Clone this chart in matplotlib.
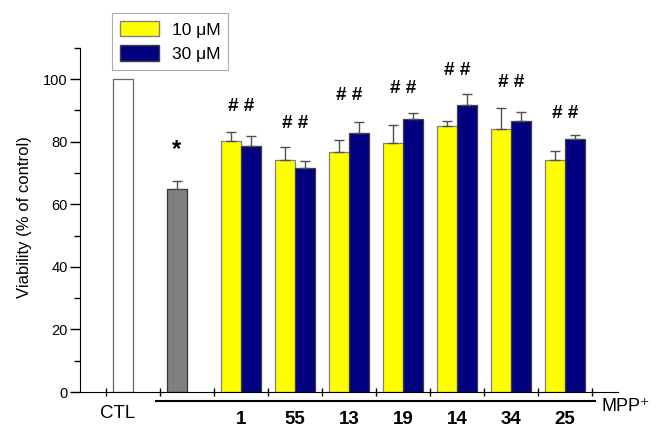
import matplotlib
matplotlib.use("Agg")
import matplotlib.pyplot as plt
import numpy as np
from matplotlib.patches import Patch

plt.rcParams['font.family'] = ['Liberation Sans', 'DejaVu Sans']

compounds = ["1", "55", "13", "19", "14", "34", "25"]
ctl_value = 100.0
mpp_value = 65.0
mpp_err = 2.3
v10 = [80.4, 74.1, 76.8, 79.7, 85.2, 84.1, 74.3]
e10 = [2.7, 4.1, 3.9, 5.6, 1.6, 6.6, 2.6]
v30 = [78.7, 71.6, 82.9, 87.3, 91.8, 86.5, 80.8]
e30 = [3.3, 2.3, 3.3, 1.8, 3.6, 2.9, 1.4]
hash_y = [91.4, 85.9, 94.9, 97.1, 102.9, 99.0, 89.0]
star_y = 77.5

fig = plt.figure(figsize=(6.59, 4.28), dpi=100)
ax = fig.add_axes([0.1214, 0.0841, 0.938 - 0.1214, 0.888 - 0.0841])

w = 0.37
off = 0.19
ekw = dict(ecolor='#505050', elinewidth=1.0, capsize=3.5, capthick=1.0)

ax.bar([0 - off], [ctl_value], width=w, color='white', edgecolor='#666666', linewidth=0.9)
ax.bar([1 - off], [mpp_value], width=w, color='#808080', edgecolor='#333333', linewidth=0.9,
       yerr=[[0], [mpp_err]], error_kw=ekw)
xg = np.arange(2, 2 + len(compounds))
ax.bar(xg - off, v10, width=w, color='#FFFF00', edgecolor='#808080', linewidth=0.9,
       yerr=[np.zeros(len(e10)), e10], error_kw=ekw, label='10 \u03bcM')
ax.bar(xg + off, v30, width=w, color='#000080', edgecolor='#404040', linewidth=0.9,
       yerr=[np.zeros(len(e30)), e30], error_kw=ekw, label='30 \u03bcM')

for x, y in zip(xg, hash_y):
    ax.text(x, y, "# #", ha='center', va='center', fontsize=13.5, fontweight='bold')
ax.text(1 - off, star_y, "*", ha='center', va='center', fontsize=17, fontweight='bold')

ax.set_xlim(-0.98, 8.98)
ax.set_ylim(0, 110)
ax.spines['top'].set_visible(False)
ax.spines['right'].set_visible(False)
ax.spines['left'].set_bounds(0, 110)
ax.set_yticks(np.arange(0, 101, 20))
ax.set_yticks(np.arange(10, 111, 10), minor=True)
ax.tick_params(axis='y', which='major', length=7, width=1, labelsize=10.5, pad=2)
ax.tick_params(axis='y', which='minor', length=4, width=1)
ax.set_xticks(np.arange(-0.5, 9.0, 1.0))
ax.set_xticklabels([])
ax.tick_params(axis='x', which='major', direction='inout', length=6, width=1)
ax.set_ylabel("Viability (% of control)", fontsize=12)
ax.yaxis.set_label_coords(-0.089, 0.507)

ax.plot([0.42, 8.56], [-2.9, -2.9], color='black', lw=1.5, clip_on=False)
ax.text(-0.28, -4.0, "CTL", ha='center', va='top', fontsize=13.5)
for x, lab in zip(xg, compounds):
    ax.text(x, -11.4, lab, ha='center', va='bottom', fontsize=13.5, fontweight='bold')
ax.text(8.68, -4.5, "MPP\u207a", ha='left', va='center', fontsize=13)

handles = [Patch(facecolor='#FFFF00', edgecolor='#808080', label='10 \u03bcM'),
           Patch(facecolor='#000080', edgecolor='#404040', label='30 \u03bcM')]
leg = ax.legend(handles=handles, loc='upper left', bbox_to_anchor=(112 / 659, 1 - 13 / 428),
                bbox_transform=fig.transFigure, borderaxespad=0,
                fontsize=12.5, frameon=True, fancybox=False, edgecolor='#999999',
                handlelength=2.25, handleheight=1.0, borderpad=0.45, labelspacing=0.45,
                handletextpad=0.75)
leg.get_frame().set_linewidth(0.8)

fig.savefig("out.png", dpi=100)
